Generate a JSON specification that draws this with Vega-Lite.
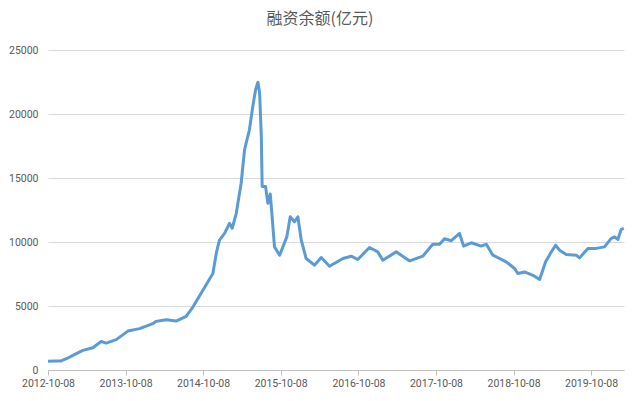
{
  "$schema": "https://vega.github.io/schema/vega-lite/v6.json",
  "width": 576,
  "height": 320,
  "autosize": {"type": "none"},
  "padding": {"left": 48, "top": 50, "right": 16, "bottom": 31},
  "background": "#ffffff",
  "title": {
    "text": "融资余额(亿元)",
    "font": "Noto Sans CJK SC",
    "fontSize": 16,
    "fontWeight": "normal",
    "color": "#595959",
    "offset": 18,
    "dx": -16
  },
  "data": {
    "values": [
      {"date": "2012-10-08", "value": 690},
      {"date": "2012-11-10", "value": 700},
      {"date": "2012-12-09", "value": 710},
      {"date": "2013-01-05", "value": 900},
      {"date": "2013-02-02", "value": 1140},
      {"date": "2013-03-21", "value": 1530},
      {"date": "2013-05-07", "value": 1740},
      {"date": "2013-06-15", "value": 2230},
      {"date": "2013-07-09", "value": 2100},
      {"date": "2013-08-25", "value": 2370},
      {"date": "2013-10-19", "value": 3040},
      {"date": "2013-12-13", "value": 3230},
      {"date": "2014-02-13", "value": 3620},
      {"date": "2014-03-01", "value": 3800},
      {"date": "2014-04-17", "value": 3930},
      {"date": "2014-06-03", "value": 3820},
      {"date": "2014-07-20", "value": 4190},
      {"date": "2014-08-21", "value": 4920},
      {"date": "2014-10-07", "value": 6230},
      {"date": "2014-11-23", "value": 7540},
      {"date": "2014-12-09", "value": 9110},
      {"date": "2014-12-16", "value": 9620},
      {"date": "2014-12-24", "value": 10150},
      {"date": "2015-01-17", "value": 10670},
      {"date": "2015-02-09", "value": 11460},
      {"date": "2015-02-22", "value": 11070},
      {"date": "2015-03-13", "value": 12240},
      {"date": "2015-04-05", "value": 14590},
      {"date": "2015-04-21", "value": 17200},
      {"date": "2015-05-14", "value": 18770},
      {"date": "2015-05-30", "value": 20600},
      {"date": "2015-06-12", "value": 21900},
      {"date": "2015-06-23", "value": 22480},
      {"date": "2015-07-01", "value": 21650},
      {"date": "2015-07-09", "value": 18250},
      {"date": "2015-07-13", "value": 14330},
      {"date": "2015-07-29", "value": 14330},
      {"date": "2015-08-09", "value": 13020},
      {"date": "2015-08-20", "value": 13750},
      {"date": "2015-08-29", "value": 11970},
      {"date": "2015-09-09", "value": 9620},
      {"date": "2015-10-03", "value": 8970},
      {"date": "2015-11-06", "value": 10400},
      {"date": "2015-11-22", "value": 11970},
      {"date": "2015-12-12", "value": 11580},
      {"date": "2015-12-28", "value": 11970},
      {"date": "2016-01-13", "value": 10150},
      {"date": "2016-02-05", "value": 8710},
      {"date": "2016-03-15", "value": 8190},
      {"date": "2016-04-16", "value": 8790},
      {"date": "2016-05-25", "value": 8110},
      {"date": "2016-07-27", "value": 8710},
      {"date": "2016-09-04", "value": 8890},
      {"date": "2016-10-05", "value": 8630},
      {"date": "2016-11-29", "value": 9570},
      {"date": "2017-01-07", "value": 9230},
      {"date": "2017-01-31", "value": 8580},
      {"date": "2017-04-04", "value": 9230},
      {"date": "2017-06-06", "value": 8520},
      {"date": "2017-08-07", "value": 8890},
      {"date": "2017-09-23", "value": 9830},
      {"date": "2017-10-25", "value": 9830},
      {"date": "2017-11-17", "value": 10250},
      {"date": "2017-12-19", "value": 10100},
      {"date": "2018-01-27", "value": 10670},
      {"date": "2018-02-15", "value": 9680},
      {"date": "2018-03-23", "value": 9940},
      {"date": "2018-05-09", "value": 9680},
      {"date": "2018-06-02", "value": 9830},
      {"date": "2018-07-03", "value": 8970},
      {"date": "2018-09-04", "value": 8450},
      {"date": "2018-10-13", "value": 7930},
      {"date": "2018-10-28", "value": 7540},
      {"date": "2018-11-29", "value": 7660},
      {"date": "2019-01-07", "value": 7400},
      {"date": "2019-02-08", "value": 7070},
      {"date": "2019-03-08", "value": 8450},
      {"date": "2019-04-04", "value": 9230},
      {"date": "2019-04-24", "value": 9750},
      {"date": "2019-05-13", "value": 9360},
      {"date": "2019-06-13", "value": 9030},
      {"date": "2019-07-30", "value": 8970},
      {"date": "2019-08-15", "value": 8760},
      {"date": "2019-09-23", "value": 9500},
      {"date": "2019-11-01", "value": 9500},
      {"date": "2019-12-10", "value": 9620},
      {"date": "2020-01-11", "value": 10280},
      {"date": "2020-01-27", "value": 10400},
      {"date": "2020-02-11", "value": 10200},
      {"date": "2020-02-27", "value": 10990},
      {"date": "2020-03-10", "value": 11070}
    ]
  },
  "mark": {"type": "line", "color": "#5B9BD5", "strokeWidth": 3, "strokeJoin": "round"},
  "encoding": {
    "x": {
      "field": "date",
      "type": "temporal",
      "title": null,
      "scale": {
        "type": "utc",
        "domain": [
          {"year": 2012, "month": 10, "date": 8, "utc": true},
          {"year": 2020, "month": 3, "date": 11, "utc": true}
        ]
      },
      "axis": {
        "values": [
          {"year": 2012, "month": 10, "date": 8, "utc": true},
          {"year": 2013, "month": 10, "date": 8, "utc": true},
          {"year": 2014, "month": 10, "date": 8, "utc": true},
          {"year": 2015, "month": 10, "date": 8, "utc": true},
          {"year": 2016, "month": 10, "date": 8, "utc": true},
          {"year": 2017, "month": 10, "date": 8, "utc": true},
          {"year": 2018, "month": 10, "date": 8, "utc": true},
          {"year": 2019, "month": 10, "date": 8, "utc": true}
        ],
        "format": "%Y-%m-%d",
        "grid": false,
        "domainColor": "#bfbfbf",
        "tickColor": "#bfbfbf",
        "tickSize": 5,
        "labelPadding": 3,
        "labelFlush": false,
        "labelFont": "Roboto",
        "labelFontSize": 10.5,
        "labelColor": "#595959",
        "labelOverlap": false
      }
    },
    "y": {
      "field": "value",
      "type": "quantitative",
      "title": null,
      "scale": {"domain": [0, 25000], "nice": false},
      "axis": {
        "values": [0, 5000, 10000, 15000, 20000, 25000],
        "format": "d",
        "domain": false,
        "ticks": false,
        "gridColor": "#d9d9d9",
        "labelPadding": 10,
        "labelFont": "Roboto",
        "labelFontSize": 10.5,
        "labelColor": "#595959"
      }
    }
  },
  "config": {
    "view": {"stroke": "transparent"}
  }
}
